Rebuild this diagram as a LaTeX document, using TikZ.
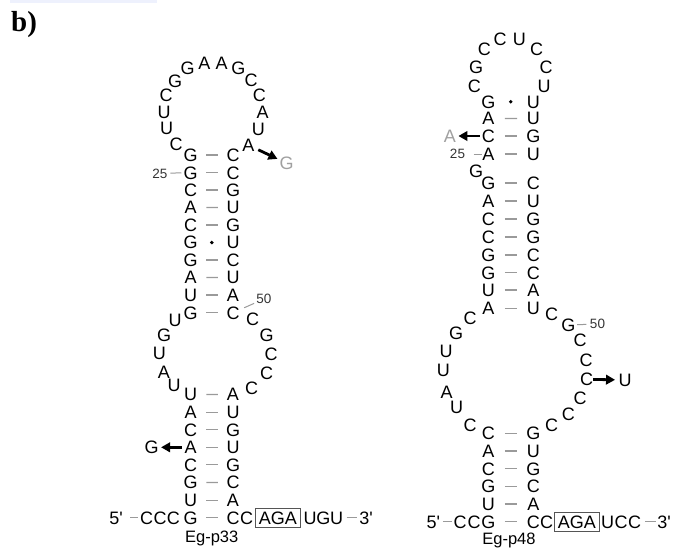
\documentclass[tikz,border=0pt]{standalone}
\usepackage{fontspec}
\setmainfont{Liberation Sans}
\newfontfamily\serifbf{Liberation Serif}
\usetikzlibrary{calc,arrows.meta}
\definecolor{mutgray}{HTML}{A0A0A0}
\definecolor{pairgray}{HTML}{9A9A9A}
\definecolor{numgray}{HTML}{333333}
\definecolor{boxgray}{HTML}{555555}
\definecolor{bandblue}{HTML}{EEF1FD}
\begin{document}
\begin{tikzpicture}[x=1pt,y=-1pt,
  nt/.style={font=\fontsize{18}{18}\selectfont, inner sep=0pt, text height=12.9pt, text depth=0pt, text=black},
  mut/.style={nt, text=mutgray},
  num/.style={font=\fontsize{13.5}{13.5}\selectfont, inner sep=0pt, text height=9.7pt, text depth=0pt, text=numgray},
  pair/.style={draw=pairgray, line width=1.1pt},
  tick/.style={draw=pairgray, line width=1pt},
  mutarrow/.style={line width=2.8pt, -{Triangle[length=9pt,width=9.5pt]}},
  seqbox/.style={nt, draw=boxgray, line width=0.9pt, inner xsep=3.2pt, inner ysep=3pt},
  lbl/.style={font=\fontsize{16.5}{16.5}\selectfont, inner sep=0pt, text height=11.8pt, text depth=0pt}
]
\useasboundingbox (0,0) rectangle (673,550);
\fill[bandblue] (10,0) rectangle (157,2.7);
\node[anchor=base west, inner sep=0pt, font=\serifbf\bfseries\fontsize{29}{29}\selectfont] (title) at (11,31.5) {b)};

% ===== left structure (Eg-p33) =====
\foreach \n/\x/\y/\t in {
  lt1/176/144.3/C, lt2/166.7/128.3/U, lt3/164/111.7/U, lt4/166/95/C, lt5/175/80.7/G,
  lt6/187.7/68.3/G, lt7/204.3/62.7/A, lt8/221.7/62.7/A, lt9/238.3/68.3/G, lt10/251/80/C,
  lt11/259.3/95/C, lt12/262.7/111.7/A, lt13/258.3/129/U, lt14/248.3/145/A,
  li1/175/320/U, li2/164/335/G, li3/159.3/353.3/U, li4/164/371.7/A, li5/174/385/U,
  ri1/252.7/319.3/C, ri2/266.7/335/G, ri3/271/354.3/C, ri4/266.7/373.3/C, ri5/251.7/388.3/C,
  lc1/146.7/517.7/C, lc2/160/517.7/C, lc3/173.3/517.7/C, lcc/246.7/517.7/C,
  lu1/310/517.7/U, lu2/323.3/517.7/G, lu3/336.7/517.7/U}
  \node[nt] (\n) at (\x,\y) {\t};
\foreach \i/\y/\a/\b in {1/155/G/C, 2/172.7/G/C, 3/190/C/G, 4/207.5/A/U, 5/225/C/G,
  6/242.5/G/U, 7/260/G/C, 8/277.5/A/U, 9/295/U/A, 10/312.7/G/C}{
  \node[nt] (la\i) at (190.7,\y) {\a};
  \node[nt] (ra\i) at (233,\y) {\b};
}
\foreach \i/\y/\a/\b in {1/394.5/U/A, 2/412.1/A/U, 3/429.7/C/G, 4/447.3/A/U,
  5/464.9/C/G, 6/482.5/G/C, 7/500.1/U/A, 8/517.7/G/C}{
  \node[nt] (lb\i) at (190.7,\y) {\a};
  \node[nt] (rb\i) at (233,\y) {\b};
}
\foreach \i in {1,2,3,4,5,7,8,9,10}
  \draw[pair] ($(la\i)!0.37!(ra\i)$) -- ($(la\i)!0.64!(ra\i)$);
\foreach \i in {1,...,8}
  \draw[pair] ($(lb\i)!0.37!(rb\i)$) -- ($(lb\i)!0.64!(rb\i)$);
\fill ($(la6)!0.5!(ra6)$) circle (1.9pt);

\node[seqbox] (lbox) at (277.8,517.7) {AGA};
\node[nt] (l5p) at (116,517.7) {5\textquotesingle};
\node[nt] (l3p) at (366,517.7) {3\textquotesingle};
\draw[pair] ($(l5p)!0.46!(lc1)$) -- ($(l5p)!0.72!(lc1)$);
\draw[pair] ($(lu3)!0.34!(l3p)$) -- ($(lu3)!0.68!(l3p)$);
\node[lbl] (lname) at (211.7,536.7) {Eg-p33};

\node[num] (l25) at (160,173.3) {25};
\draw[tick] ($(l25)!0.34!(la2)$) -- ($(l25)!0.70!(la2)$);
\node[num] (l50) at (264,299) {50};
\draw[tick] ($(ra10)!0.36!(l50)$) -- ($(ra10)!0.68!(l50)$);

\node[mut] (lmG) at (286.7,163.3) {G};
\draw[mutarrow] ($(lt14)!0.26!(lmG)$) -- ($(lt14)!0.76!(lmG)$);
\node[nt] (lmG2) at (151.7,447.3) {G};
\draw[mutarrow] ($(lb4)!0.22!(lmG2)$) -- ($(lb4)!0.76!(lmG2)$);

% ===== right structure (Eg-p48) =====
\foreach \n/\x/\y/\t in {
  rt1/474.3/86/C, rt2/476/66.7/G, rt3/484.3/49.3/C, rt4/500/39.3/C, rt5/519.3/39.3/U,
  rt6/536.7/49.3/C, rt7/546/66.7/C, rt8/544/86/U,
  rbg/476/170.7/G,
  qi1/470/317.7/C, qi2/456/332.7/G, qi3/446/351/U, qi4/443.3/370/U, qi5/446.7/391.7/A,
  qi6/456.7/407.3/U, qi7/470/425/C,
  qj1/551.7/314/C, qj2/568.3/325/G, qj3/580/340/C, qj4/586/360/C, qj5/586.7/379.3/C,
  qj6/580/398.3/C, qj7/568.3/414.5/C, qj8/551.7/425/C,
  rc1/460/521.7/C, rc2/474/521.7/C, rcc/546.7/521.7/C,
  ru1/607.5/521.7/U, rc3/621/521.7/C, rc4/634.5/521.7/C}
  \node[nt] (\n) at (\x,\y) {\t};
\foreach \i/\y/\a/\b in {1/101.7/G/U, 2/118.5/A/U, 3/136/C/G, 4/154/A/U,
  5/183/G/C, 6/201/A/U, 7/219/C/G, 8/237/C/G, 9/255/G/C, 10/272.7/G/C,
  11/290/U/A, 12/308.3/A/U}{
  \node[nt] (sL\i) at (488.3,\y) {\a};
  \node[nt] (sR\i) at (533.3,\y) {\b};
}
\foreach \i/\y/\a/\b in {1/433.3/C/G, 2/451/A/U, 3/468.7/C/G, 4/486.3/G/C,
  5/504/U/A, 6/521.7/G/C}{
  \node[nt] (tL\i) at (488.3,\y) {\a};
  \node[nt] (tR\i) at (533.3,\y) {\b};
}
\foreach \i in {2,...,12}
  \draw[pair] ($(sL\i)!0.37!(sR\i)$) -- ($(sL\i)!0.64!(sR\i)$);
\foreach \i in {1,...,6}
  \draw[pair] ($(tL\i)!0.37!(tR\i)$) -- ($(tL\i)!0.64!(tR\i)$);
\fill ($(sL1)!0.5!(sR1)$) circle (1.9pt);

\node[seqbox] (rbox) at (576.8,521.7) {AGA};
\node[nt] (r5p) at (433.3,521.7) {5\textquotesingle};
\node[nt] (r3p) at (664,521.7) {3\textquotesingle};
\draw[pair] ($(r5p)!0.36!(rc1)$) -- ($(r5p)!0.70!(rc1)$);
\draw[pair] ($(rc4)!0.36!(r3p)$) -- ($(rc4)!0.72!(r3p)$);
\node[lbl] (rname) at (509,539) {Eg-p48};

\node[num] (r25) at (457.5,154) {25};
\draw[tick] ($(r25)!0.52!(sL4)$) -- ($(r25)!0.78!(sL4)$);
\node[num] (r50) at (597.5,324) {50};
\draw[tick] ($(qj2)!0.30!(r50)$) -- ($(qj2)!0.62!(r50)$);

\node[mut] (rmA) at (450,136) {A};
\draw[mutarrow] ($(sL3)!0.22!(rmA)$) -- ($(sL3)!0.78!(rmA)$);
\node[nt] (rmU) at (625,380) {U};
\draw[mutarrow] ($(qj5)!0.17!(rmU)$) -- ($(qj5)!0.74!(rmU)$);
\end{tikzpicture}
\end{document}
